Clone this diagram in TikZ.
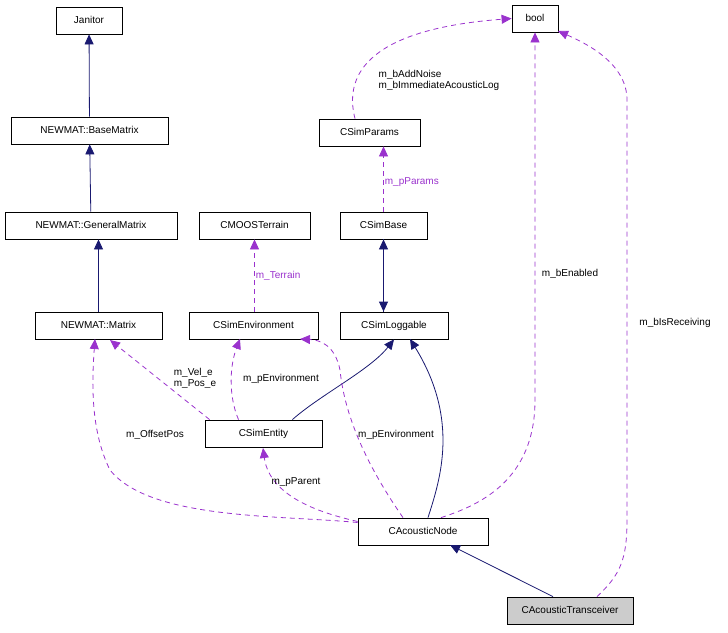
\documentclass[tikz,border=0pt]{standalone}
\usepackage{fontspec}
\setmainfont{Liberation Sans}
\usetikzlibrary{arrows.meta}
\definecolor{navy}{HTML}{191970}
\definecolor{dpurp}{HTML}{9A32CD}
\begin{document}
\begin{tikzpicture}[x=1pt,y=-1pt,
  box/.style={draw,thick,inner sep=0pt,minimum height=27pt,font=\fontsize{10}{11}\selectfont,text height=7.5pt,text depth=2pt},
  inh/.style={navy,thick,-{Triangle[length=10pt,width=9pt]}},
  use/.style={dpurp,thick,dashed,dash pattern=on 5pt off 4pt,-{Triangle[length=10pt,width=9pt]}},
  lab/.style={font=\fontsize{10}{11}\selectfont,align=left,inner sep=1pt}]
\useasboundingbox (0,0) rectangle (728,632);
\node[box,minimum width=66pt] (jan) at (89,20.5) {Janitor};
\node[box,minimum width=157pt] (bm) at (89.5,130.5) {NEWMAT::BaseMatrix};
\node[box,minimum width=172pt] (gm) at (91,225.5) {NEWMAT::GeneralMatrix};
\node[box,minimum width=127pt] (mat) at (98.5,325.5) {NEWMAT::Matrix};
\node[box,minimum width=111pt] (ter) at (254.5,225.5) {CMOOSTerrain};
\node[box,minimum width=129pt] (env) at (253.5,325.5) {CSimEnvironment};
\node[box,minimum width=101pt] (par) at (369.5,132.5) {CSimParams};
\node[box,minimum width=87pt] (sb) at (383.5,225.5) {CSimBase};
\node[box,minimum width=108pt] (sl) at (394,325.5) {CSimLoggable};
\node[box,minimum width=46pt] (bool) at (535,18.5) {bool};
\node[box,minimum width=117pt] (ent) at (263.5,433.5) {CSimEntity};
\node[box,minimum width=130pt] (an) at (423,531.5) {CAcousticNode};
\node[box,minimum width=126pt,fill=black!20] (at) at (570,610.5) {CAcousticTransceiver};

\draw[inh] (bm) -- (jan);
\draw[inh] (gm) -- (bm);
\draw[inh] (mat.north) -- (mat.north |- gm.south);
\draw[inh] (sb) -- (sl.north -| sb) ;
\path (sl.north -| sb) coordinate (slt);
\draw[inh] (slt) -- (sb.south);
\draw[use] (sb) -- node[lab,right,pos=0.45]{m\_pParams} (sb.north |- par.south);
\draw[use] (ter.south |- env.north) -- node[lab,right,pos=0.5]{m\_Terrain} (ter.south);
\draw[use] (par.north -| 355,0) .. controls (345,80) and (360,30) .. (bool.west);
\node[lab] (l1) at (439,80) {m\_bAddNoise\\m\_bImmediateAcousticLog};
\draw[inh] (ent.north east) ++(-30,0) .. controls (320,395) and (370,370) .. (sl.south);
\draw[use] (ent.north west) ++(5,0) -- (110,340);
\node[lab] (l2) at (195,378) {m\_Vel\_e\\m\_Pos\_e};
\draw[use] (ent.north) ++(-25,0) .. controls (228,395) and (230,365) .. (240,339);
\node[lab] (l3) at (281,379) {m\_pEnvironment};
\draw[inh] (an.north) ++(5,0) .. controls (440,480) and (460,420) .. (410,339);
\draw[use] (an.north) ++(-20,0) .. controls (370,470) and (345,420) .. (340,370) .. controls (335,345) and (320,340) .. (300,339);
\node[lab] (l4) at (396,435) {m\_pEnvironment};
\draw[use] (an.west) ++(0,-10) .. controls (330,515) and (270,500) .. (263,448);
\node[lab] (l5) at (296,482) {m\_pParent};
\draw[use] (an.west) ++(0,-9) .. controls (280,515) and (150,520) .. (110,470) .. controls (90,430) and (92,380) .. (95,339);
\node[lab] (l6) at (155,435) {m\_OffsetPos};
\draw[use] (an.north) ++(18,0) .. controls (480,505) and (535,480) .. (535,400) -- (bool.south);
\node[lab] (l7) at (570,274) {m\_bEnabled};
\draw[use] (at.north) ++(27,0) .. controls (620,575) and (627,560) .. (627,520) -- (627,100) .. controls (627,65) and (590,45) .. (558,31);
\node[lab] (l8) at (675,323) {m\_bIsReceiving};
\draw[inh] (at.north) ++(-17,0) -- (450,545);
\end{tikzpicture}
\end{document}
